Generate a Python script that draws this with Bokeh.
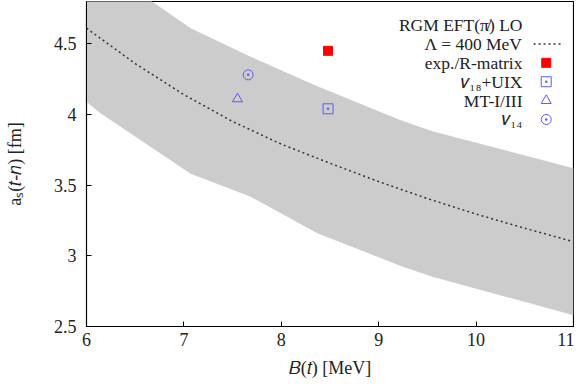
from bokeh.plotting import figure
from bokeh.models import Range1d, Label, FixedTicker
from bokeh.embed import file_html
from bokeh.resources import INLINE

# --- data ---------------------------------------------------------------
band_B = [6.0, 6.14, 6.66, 7.07, 7.68, 8.37, 9.22, 9.56, 11.0]
band_lo = [4.09, 4.01, 3.77, 3.58, 3.42, 3.16, 2.93, 2.85, 2.58]
band_hi = [5.12, 5.05, 4.805, 4.61, 4.41, 4.20, 3.96, 3.88, 3.62]

lo_B = [6.0, 6.5, 7.0, 7.5, 8.0, 8.5, 9.0, 9.5, 10.0, 10.5, 11.0]
lo_as = [4.61, 4.36, 4.14, 3.95, 3.79, 3.655, 3.525, 3.405, 3.295, 3.195, 3.10]

exp_B, exp_as = [8.48], [4.45]
v18_B, v18_as = [8.48], [4.04]
mt_B, mt_as = [7.55], [4.11]
v14_B, v14_as = [7.66], [4.28]

x_ticks = [6, 7, 8, 9, 10, 11]
y_ticks = [2.5, 3, 3.5, 4, 4.5]
legend_labels = ["RGM EFT(π̸) LO", "Λ = 400 MeV", "exp./R-matrix",
                 "𝑣₁₈+UIX", "MT-I/III", "𝑣₁₄"]

FONT = "Liberation Serif"
BLUE = "#5c5cff"
RED = "#ff0000"
TXT = "#222222"

p = figure(width=574, height=380, output_backend="svg", toolbar_location=None,
           x_range=Range1d(6, 11), y_range=Range1d(2.5, 4.799),
           min_border_left=86, min_border_right=1, min_border_top=1,
           min_border_bottom=48)
p.background_fill_color = "white"
p.border_fill_color = "white"
p.outline_line_color = "black"
p.outline_line_width = 1.2
p.grid.visible = False

for ax in (p.xaxis[0], p.yaxis[0]):
    ax.major_tick_in = 5
    ax.major_tick_out = 0
    ax.minor_tick_line_color = None
    ax.axis_line_color = "black"
    ax.major_tick_line_color = "black"
    ax.major_label_text_font = FONT
    ax.major_label_text_font_size = "18px"
    ax.major_label_text_color = TXT
    ax.axis_label_text_font = FONT
    ax.axis_label_text_font_size = "18px"
    ax.axis_label_text_font_style = "normal"
    ax.axis_label_text_color = TXT

p.xaxis[0].ticker = FixedTicker(ticks=x_ticks)
p.yaxis[0].ticker = FixedTicker(ticks=y_ticks)
p.xaxis[0].major_label_overrides = {t: str(t) for t in x_ticks}
p.yaxis[0].major_label_overrides = {2.5: "2.5", 3: "3", 3.5: "3.5", 4: "4", 4.5: "4.5"}
p.xaxis[0].major_label_standoff = 6
p.yaxis[0].major_label_standoff = 10
p.xaxis[0].axis_label = "𝐵(𝑡) [MeV]"
p.yaxis[0].axis_label = "aₛ(𝑡-𝑛) [fm]"
p.xaxis[0].axis_label_standoff = 9
p.yaxis[0].axis_label_standoff = 26

# band and LO line
p.varea(x=band_B, y1=band_lo, y2=band_hi, fill_color="#cccccc", fill_alpha=1.0)
p.line(lo_B, lo_as, line_color="#333333", line_width=1.5, line_dash="2 3")

# data points
p.scatter(exp_B, exp_as, marker="square", size=9, fill_color=RED, line_color=RED)
p.scatter(v18_B, v18_as, marker="square_dot", size=10, fill_color=None,
          line_color=BLUE, line_width=1)
p.scatter(mt_B, mt_as, marker="triangle", size=10, fill_color=None,
          line_color=BLUE, line_width=1)
p.scatter(v14_B, v14_as, marker="circle_dot", size=10, fill_color=None,
          line_color=BLUE, line_width=1)

# --- custom legend (text right-aligned, sample to its right) -----------
leg_text_x = 10.476
leg_sample_x = 10.72
leg_y0 = 4.632
leg_dy = 0.1335
rows = [leg_y0 - i * leg_dy for i in range(len(legend_labels))]
for lab, yy in zip(legend_labels, rows):
    p.add_layout(Label(x=leg_text_x, y=yy, text=lab, text_align="right",
                       text_baseline="middle", text_font=FONT,
                       text_font_size="17.5px", text_color=TXT))
p.line([leg_sample_x - 0.13, leg_sample_x + 0.15], [rows[1], rows[1]],
       line_color="#333333", line_width=1.5, line_dash="2 3")
p.scatter([leg_sample_x], [rows[2]], marker="square", size=9,
          fill_color=RED, line_color=RED)
p.scatter([leg_sample_x], [rows[3]], marker="square_dot", size=10,
          fill_color=None, line_color=BLUE)
p.scatter([leg_sample_x], [rows[4]], marker="triangle", size=10,
          fill_color=None, line_color=BLUE)
p.scatter([leg_sample_x], [rows[5]], marker="circle_dot", size=10,
          fill_color=None, line_color=BLUE)

open("out.html", "w").write(file_html(p, INLINE))
